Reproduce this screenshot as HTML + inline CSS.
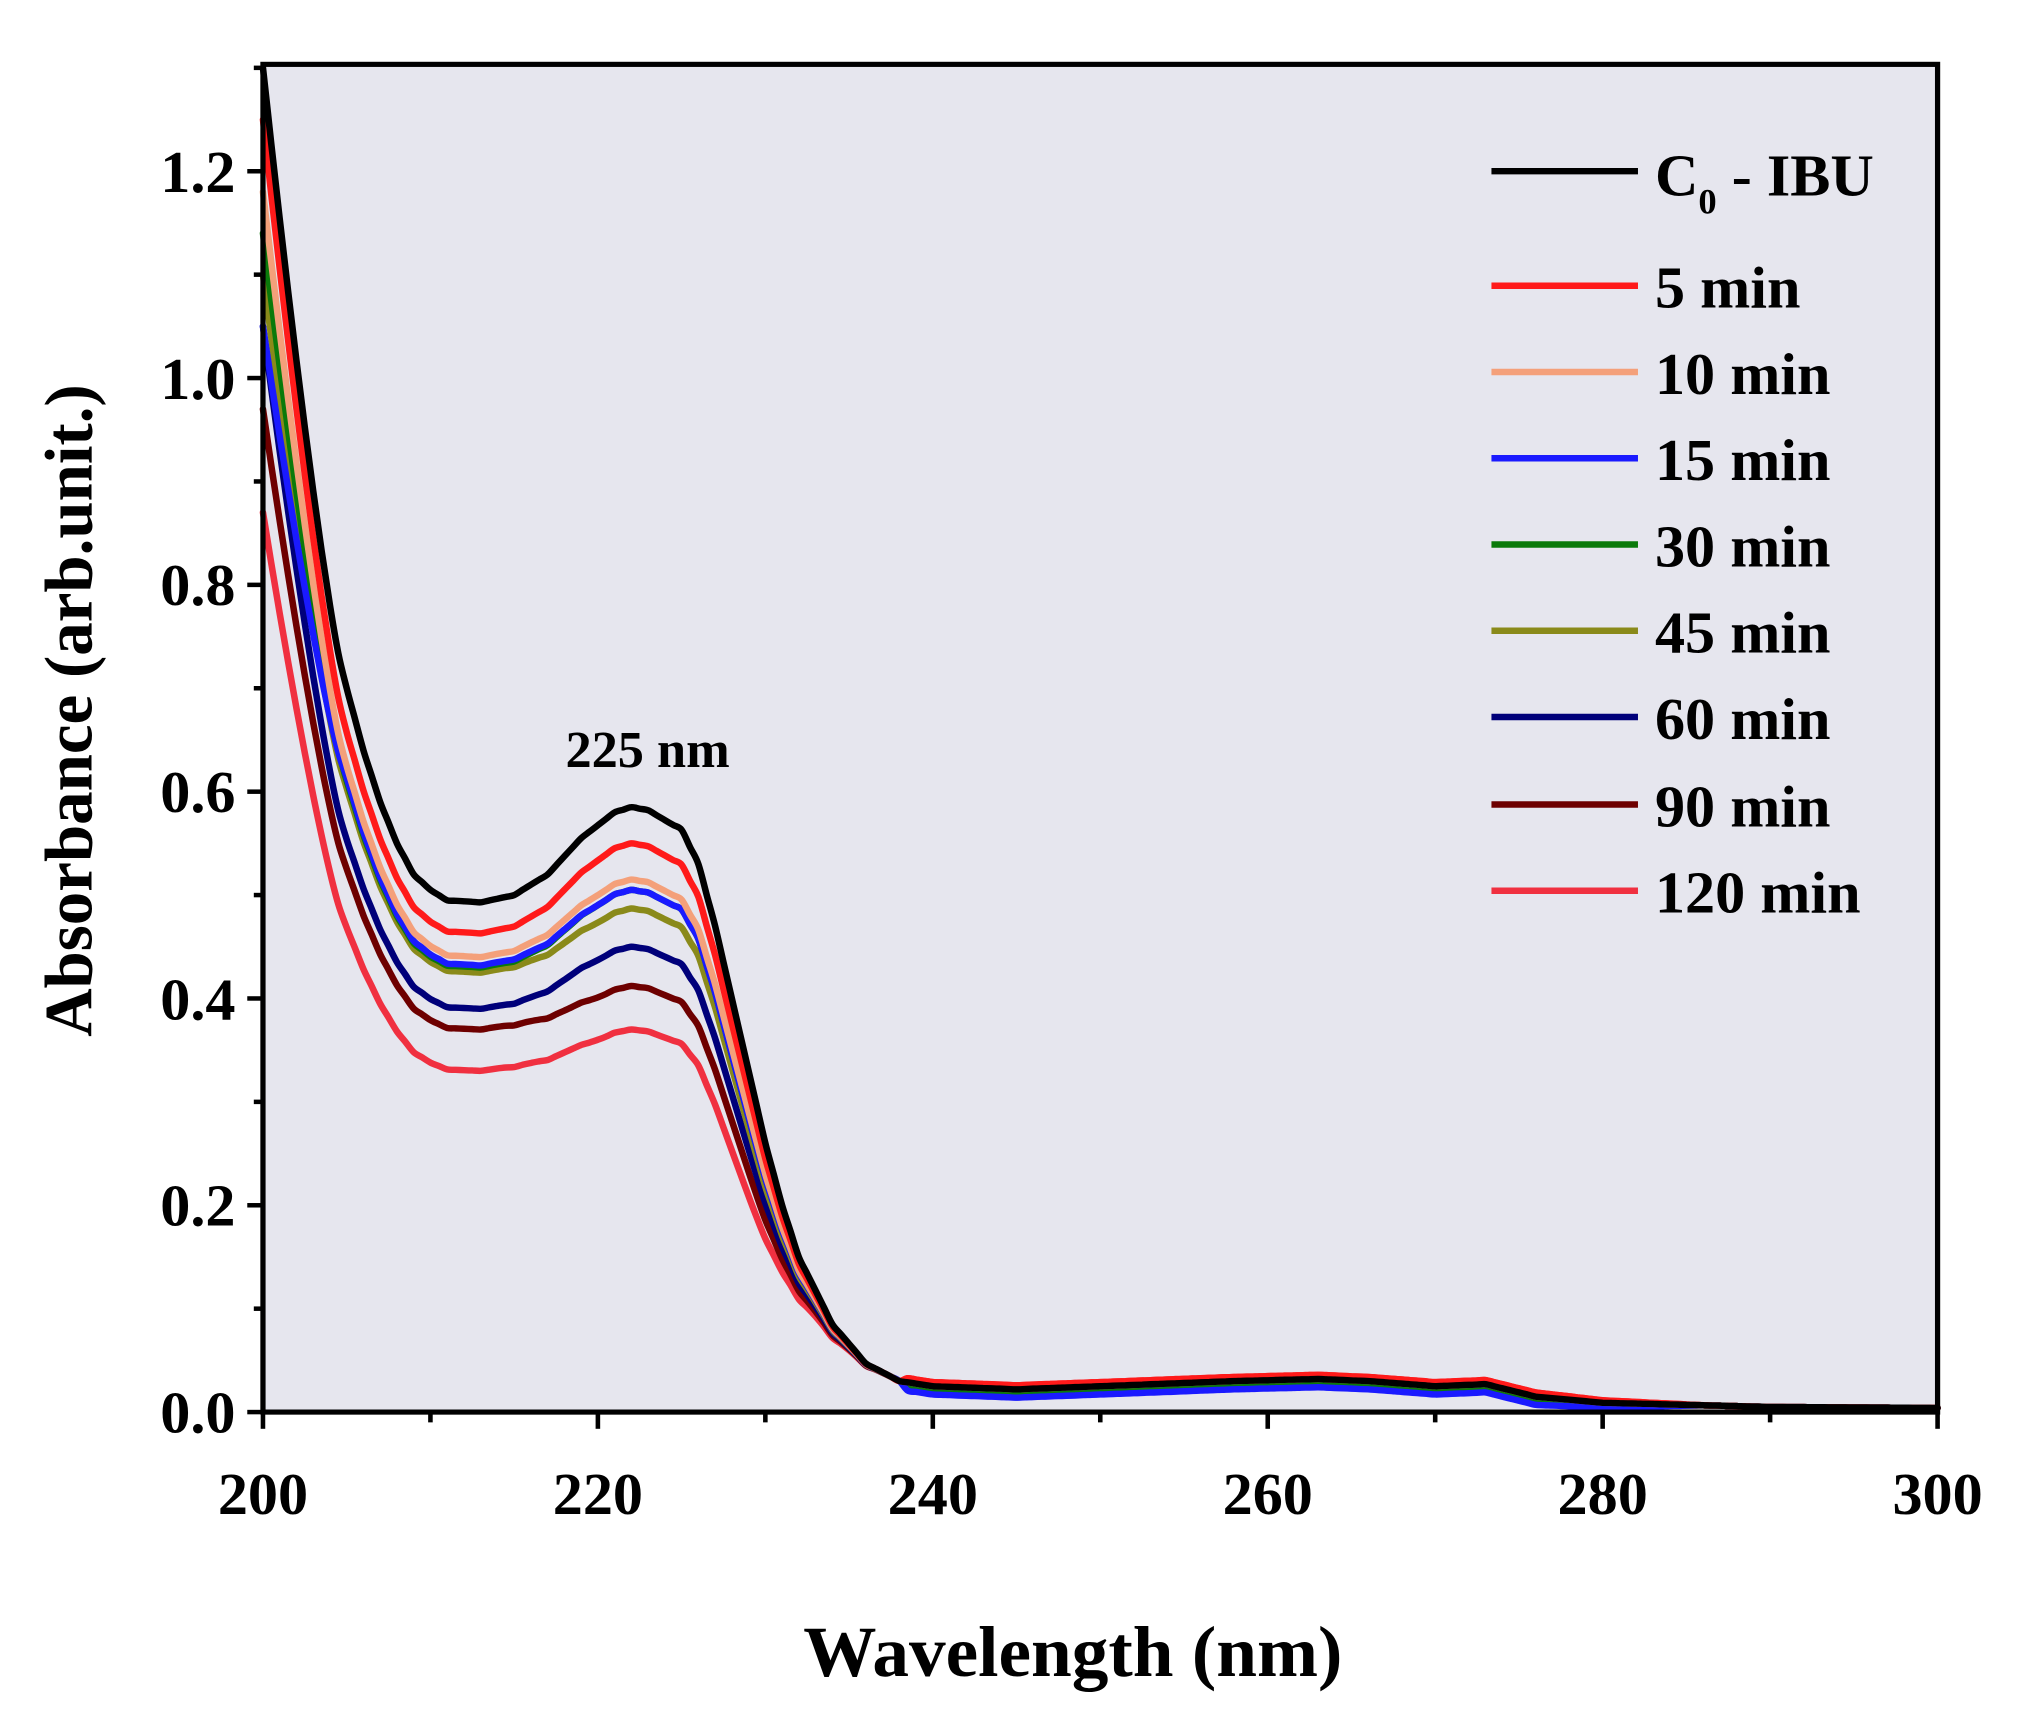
<!DOCTYPE html>
<html><head><meta charset="utf-8"><style>
html,body{margin:0;padding:0;background:#fff;}
svg{display:block;}
text{font-family:"Liberation Serif",serif;font-weight:bold;fill:#000;}
</style></head><body>
<svg id="s" width="2020" height="1712" viewBox="0 0 1544 1330" preserveAspectRatio="none" xmlns="http://www.w3.org/2000/svg">
<rect x="201" y="50" width="1280" height="1047" fill="#e6e6ee"/>
<g id="curves" fill="none" stroke-width="5" stroke-linejoin="round" stroke-linecap="round"></g>
<rect x="201" y="50" width="1280" height="1047" fill="none" stroke="#000" stroke-width="4"/>
<g id="ticks" stroke="#000" stroke-width="3.5"></g>
<g font-size="46" text-anchor="end">
<text x="180" y="1113">0.0</text><text x="180" y="952">0.2</text><text x="180" y="792">0.4</text>
<text x="180" y="631">0.6</text><text x="180" y="470">0.8</text><text x="180" y="310">1.0</text><text x="180" y="149">1.2</text>
</g>
<g font-size="46" text-anchor="middle">
<text x="201" y="1176">200</text><text x="457" y="1176">220</text><text x="713" y="1176">240</text>
<text x="969" y="1176">260</text><text x="1225" y="1176">280</text><text x="1481" y="1176">300</text>
</g>
<text font-size="56" text-anchor="middle" x="820" y="1302">Wavelength  (nm)</text>
<text font-size="52" text-anchor="middle" transform="translate(70,552) rotate(-90)">Absorbance (arb.unit.)</text>
<text font-size="40" text-anchor="middle" x="495" y="596">225 nm</text>
<g id="legend" stroke-width="5"></g>
<g font-size="46">
<text x="1265" y="152">C<tspan font-size="28" dy="14">0</tspan><tspan dy="-14"> - IBU</tspan></text>
<text x="1265" y="239">5 min</text><text x="1265" y="306">10 min</text><text x="1265" y="373">15 min</text>
<text x="1265" y="440">30 min</text><text x="1265" y="507">45 min</text><text x="1265" y="574">60 min</text>
<text x="1265" y="642">90 min</text><text x="1265" y="709">120 min</text>
</g>
</svg>
<script>
var NS="http://www.w3.org/2000/svg";
function X(w){return 201+(w-200)*12.8;}
function Y(a){return 1097-a*803.3;}
var base=[[200,1.30],[201,1.15],[202,1.0],[203,0.88],[204,0.78],[205,0.70],[206,0.64],[207,0.59],[208,0.55],[209,0.52],[210,0.505],[211,0.495],[213,0.493],[215,0.50],[217,0.52],[219,0.555],[221,0.58],[222,0.585],[223,0.582],[225,0.563],[226,0.53],[227,0.47],[228,0.40],[229,0.33],[230,0.26],[231,0.20],[232,0.15],[234,0.085],[236,0.047],[238,0.03],[240,0.025],[245,0.022],[250,0.025],[258,0.03],[263,0.032],[266,0.03],[270,0.025],[273,0.027],[276,0.015],[280,0.009],[290,0.005],[300,0.004]];
function bv(w){for(var i=0;i<base.length-1;i++){if(w<=base[i+1][0]){var t=(w-base[i][0])/(base[i+1][0]-base[i][0]);return base[i][1]+t*(base[i+1][1]-base[i][1]);}}return base[base.length-1][1];}
// color, start, peak, min, tail offset
var S=[["#000",1.30,0.585,0.493,0],["#ff1a1a",1.25,0.55,0.463,0.004],["#f4a07a",1.18,0.515,0.44,0],["#1a1aff",1.05,0.505,0.432,-0.008],["#0a7a0a",1.14,0.505,0.43,-0.005],["#8a8a1a",1.10,0.487,0.425,-0.003],["#00007a",1.05,0.45,0.39,-0.006],["#6e0000",0.97,0.412,0.37,0],["#f03040",0.87,0.37,0.33,0.004]];
function ss(e0,e1,x){var t=Math.min(1,Math.max(0,(x-e0)/(e1-e0)));return t*t*(3-2*t);}
var g=document.getElementById("curves");
for(var k=S.length-1;k>=0;k--){var s=S[k],fp=s[2]/0.585,fm=s[3]/0.493,pts=[];
for(var w=200;w<=300;w+=0.5){
var f=fm+(fp-fm)*ss(214,221,w);
var sm=ss(229,238,w);
var a=bv(w)*(f+(1-f)*sm);
if(w<205){var t=(205-w)/5;a=bv(205)*fm+(s[1]-bv(205)*fm)*Math.pow(t,1.25);}
if(w>238){a+=s[4]*(w<276?1:Math.max(0,1-(w-276)/10));a=Math.max(a,0.001);}
pts.push([X(w),Y(a)]);}
// catmull-rom smoothing
var d="M"+pts[0][0].toFixed(1)+" "+pts[0][1].toFixed(1);
for(var i=0;i<pts.length-1;i++){var p0=pts[Math.max(0,i-1)],p1=pts[i],p2=pts[i+1],p3=pts[Math.min(pts.length-1,i+2)];
d+="C"+(p1[0]+(p2[0]-p0[0])/6).toFixed(1)+" "+(p1[1]+(p2[1]-p0[1])/6).toFixed(1)+" "+(p2[0]-(p3[0]-p1[0])/6).toFixed(1)+" "+(p2[1]-(p3[1]-p1[1])/6).toFixed(1)+" "+p2[0].toFixed(1)+" "+p2[1].toFixed(1);}
var p=document.createElementNS(NS,"path");p.setAttribute("d",d);p.setAttribute("stroke",s[0]);g.appendChild(p);}
var lg=document.getElementById("legend"),ly=[133,222,289,356,423,490,557,625,692];
for(var i=0;i<9;i++){var l=document.createElementNS(NS,"line");l.setAttribute("x1",1140);l.setAttribute("x2",1252);l.setAttribute("y1",ly[i]);l.setAttribute("y2",ly[i]);l.setAttribute("stroke",S[i][0]);lg.appendChild(l);}
var tg=document.getElementById("ticks");
function ln(x1,y1,x2,y2){var l=document.createElementNS(NS,"line");l.setAttribute("x1",x1);l.setAttribute("x2",x2);l.setAttribute("y1",y1);l.setAttribute("y2",y2);tg.appendChild(l);}
for(var v=0;v<=1.3001;v+=0.1){var maj=Math.round(v*10)%2==0;ln(201,Y(v),maj?189:194,Y(v));}
for(var w=200;w<=300;w+=10){var maj=(w%20==0);ln(X(w),1097,X(w),maj?1110:1105);}
</script>
</body></html>
